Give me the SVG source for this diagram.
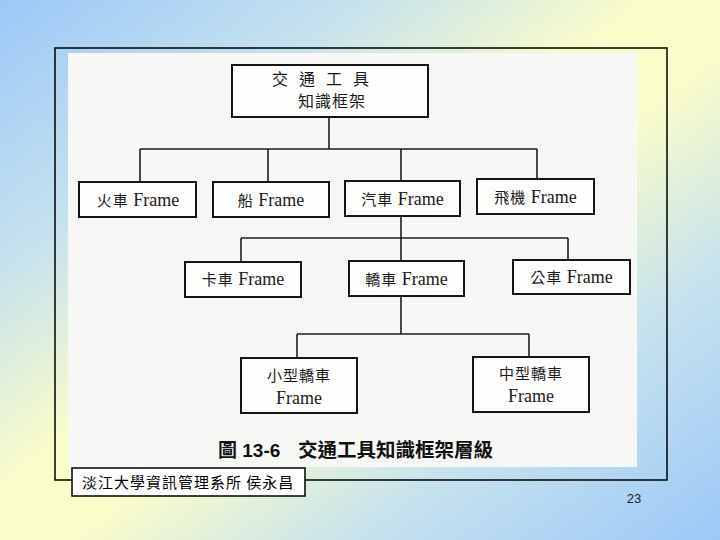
<svg xmlns="http://www.w3.org/2000/svg" width="720" height="540" viewBox="0 0 720 540">
  <defs>
    <linearGradient id="bg" x1="0" y1="0" x2="1" y2="1">
      <stop offset="0" stop-color="#9cc8f8"/>
      <stop offset="0.25" stop-color="#c6e2ee"/>
      <stop offset="0.45" stop-color="#fafcca"/>
      <stop offset="0.55" stop-color="#fafcca"/>
      <stop offset="0.75" stop-color="#c6e2ee"/>
      <stop offset="1" stop-color="#9cc8f8"/>
    </linearGradient>
    <pattern id="dots" width="4" height="4" patternUnits="userSpaceOnUse">
      <rect width="4" height="4" fill="#f8f8f6"/>
      <rect x="1" y="1" width="1" height="1" fill="#e6e6e2"/>
    </pattern>
  </defs>
  <style>
    .box{fill:#fdfdfc;stroke:#151515;stroke-width:2}
    .lbl{font-family:"Liberation Serif","Noto Sans CJK TC",serif;font-size:18px;fill:#1a1a1a;text-anchor:middle}
    .cjk{font-family:"Noto Sans CJK TC","Liberation Serif",sans-serif;font-size:15px;letter-spacing:1px}
    .conn{fill:none;stroke:#1e1e1e;stroke-width:1.6}
  </style>
  <rect width="720" height="540" fill="url(#bg)"/>
  <rect x="55" y="48" width="612" height="432" fill="none" stroke="#000" stroke-width="1.5"/>
  <rect x="68" y="53" width="569" height="414" fill="url(#dots)"/>

  <g id="connectors">
    <path class="conn" d="M329,117 V149 M140,149 H537 M140,149 V182 M268,149 V182 M401,149 V181 M537,149 V179"/>
    <path class="conn" d="M401,216 V238 M241,238 H568 M241,238 V262 M401,238 V261 M568,238 V260"/>
    <path class="conn" d="M401,296 V334 M297,334 H529 M297,334 V358 M529,334 V357"/>
  </g>

  <g id="n-root">
    <rect class="box" x="232" y="65" width="196" height="52"/>
    <text x="272" y="85" style="font-family:'Noto Sans CJK TC',sans-serif;font-size:16px;letter-spacing:3.7px;fill:#1a1a1a">交 通 工 具</text>
    <text x="298" y="107" style="font-family:'Noto Sans CJK TC',sans-serif;font-size:16px;letter-spacing:1px;fill:#1a1a1a">知識框架</text>
  </g>
  <g id="n-train">
    <rect class="box" x="79" y="182" width="117" height="35"/>
    <text class="lbl" x="138" y="206"><tspan class="cjk">火車</tspan> Frame</text>
  </g>
  <g id="n-ship">
    <rect class="box" x="213" y="182" width="116" height="35"/>
    <text class="lbl" x="271" y="206"><tspan class="cjk">船</tspan> Frame</text>
  </g>
  <g id="n-auto">
    <rect class="box" x="345" y="181" width="115" height="35"/>
    <text class="lbl" x="402.5" y="205"><tspan class="cjk">汽車</tspan> Frame</text>
  </g>
  <g id="n-plane">
    <rect class="box" x="477" y="179" width="117" height="35"/>
    <text class="lbl" x="535.5" y="203"><tspan class="cjk">飛機</tspan> Frame</text>
  </g>
  <g id="n-truck">
    <rect class="box" x="185" y="262" width="116" height="35"/>
    <text class="lbl" x="243" y="285"><tspan class="cjk">卡車</tspan> Frame</text>
  </g>
  <g id="n-car">
    <rect class="box" x="349" y="261" width="115" height="35"/>
    <text class="lbl" x="406.5" y="285"><tspan class="cjk">轎車</tspan> Frame</text>
  </g>
  <g id="n-bus">
    <rect class="box" x="513" y="260" width="117" height="34"/>
    <text class="lbl" x="571.5" y="283"><tspan class="cjk">公車</tspan> Frame</text>
  </g>
  <g id="n-small">
    <rect class="box" x="241" y="358" width="116" height="55"/>
    <text class="lbl" x="299" y="381"><tspan class="cjk">小型轎車</tspan></text>
    <text class="lbl" x="299" y="404">Frame</text>
  </g>
  <g id="n-mid">
    <rect class="box" x="473" y="357" width="116" height="55"/>
    <text class="lbl" x="531" y="379"><tspan class="cjk">中型轎車</tspan></text>
    <text class="lbl" x="531" y="402">Frame</text>
  </g>

  <text x="218" y="457" style="font-family:'Liberation Sans','Noto Sans CJK TC',sans-serif;font-size:19px;font-weight:bold;fill:#111">圖 13-6</text>
  <text x="298" y="457" style="font-family:'Noto Sans CJK TC',sans-serif;font-size:19.5px;font-weight:bold;fill:#111">交通工具知識框架層級</text>

  <rect x="72" y="468" width="233" height="28" fill="#fff" stroke="#000" stroke-width="1.5"/>
  <text x="82" y="488" style="font-family:'Noto Sans CJK TC',sans-serif;font-size:15px;letter-spacing:1px;fill:#000">淡江大學資訊管理系所 侯永昌</text>
  <text x="634" y="503" text-anchor="middle" style="font-family:'Liberation Sans',sans-serif;font-size:13px;fill:#1a1a40">23</text>
</svg>
